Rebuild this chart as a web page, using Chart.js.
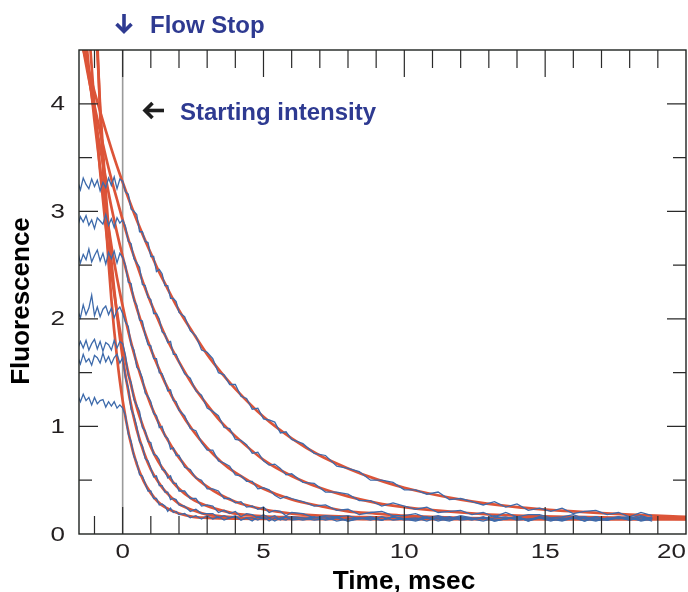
<!DOCTYPE html>
<html>
<head>
<meta charset="utf-8">
<script src="https://cdn.jsdelivr.net/npm/chart.js@4"></script>
<style>
  body { margin: 0; background: #fff; }
  canvas { display: block; }
</style>
</head>
<body>
<canvas id="stopFlowCanvas" width="688" height="592"></canvas>
<script>
// time points of the fitted curves (msec)
const fitTime = [-1.6, -1.4, -1.2, -1.0, -0.8, -0.6, -0.4, -0.2, 0, 0.25, 0.5, 0.75, 1, 1.25, 1.5, 2, 2.5, 3, 3.5, 4, 5, 6, 7, 8, 9, 10, 12, 14, 16, 18, 20];

// fitted curves (red)
const fit1 = [4.72, 4.51, 4.31, 4.11, 3.93, 3.75, 3.58, 3.42, 3.27, 3.09, 2.92, 2.76, 2.61, 2.46, 2.33, 2.08, 1.87, 1.67, 1.50, 1.35, 1.09, 0.89, 0.73, 0.61, 0.51, 0.43, 0.32, 0.25, 0.21, 0.18, 0.16];
const fit2 = [4.80, 4.51, 4.23, 3.98, 3.74, 3.51, 3.30, 3.11, 2.92, 2.70, 2.51, 2.32, 2.15, 2.00, 1.85, 1.60, 1.38, 1.20, 1.04, 0.91, 0.69, 0.54, 0.43, 0.35, 0.29, 0.25, 0.20, 0.17, 0.16, 0.15, 0.14];
const fit3 = [5.03, 4.62, 4.25, 3.91, 3.59, 3.31, 3.04, 2.80, 2.58, 2.33, 2.10, 1.90, 1.72, 1.56, 1.41, 1.16, 0.96, 0.80, 0.67, 0.57, 0.42, 0.32, 0.26, 0.21, 0.19, 0.17, 0.15, 0.145, 0.14, 0.14, 0.14];
const fit4 = [5.52, 4.89, 4.33, 3.84, 3.40, 3.02, 2.68, 2.38, 2.12, 1.83, 1.59, 1.38, 1.20, 1.05, 0.92, 0.71, 0.55, 0.44, 0.36, 0.30, 0.23, 0.19, 0.17, 0.16, 0.155, 0.15, 0.145, 0.14, 0.14, 0.14, 0.14];
const fit5 = [6.61, 5.58, 4.71, 3.98, 3.37, 2.85, 2.42, 2.06, 1.75, 1.44, 1.18, 0.98, 0.81, 0.68, 0.58, 0.42, 0.32, 0.26, 0.22, 0.19, 0.165, 0.155, 0.15, 0.145, 0.14, 0.14, 0.14, 0.14, 0.14, 0.14, 0.14];
const fit6 = [10.0, 7.93, 6.29, 5.00, 3.98, 3.18, 2.54, 2.04, 1.64, 1.26, 0.97, 0.76, 0.60, 0.49, 0.40, 0.28, 0.22, 0.18, 0.165, 0.155, 0.145, 0.14, 0.14, 0.14, 0.14, 0.14, 0.14, 0.14, 0.14, 0.14, 0.14];
const fit7 = [13.04, 9.62, 7.11, 5.26, 3.91, 2.91, 2.18, 1.64, 1.24, 0.89, 0.65, 0.49, 0.38, 0.30, 0.25, 0.19, 0.16, 0.15, 0.145, 0.142, 0.14, 0.14, 0.14, 0.14, 0.14, 0.14, 0.14, 0.14, 0.14, 0.14, 0.14];

// time points of the measured traces (msec)
const traceTime = [-1.6, -1.5, -1.4, -1.3, -1.2, -1.1, -1.0, -0.9, -0.8, -0.7, -0.6, -0.5, -0.4, -0.3, -0.2, -0.1, 0,
  0.1, 0.2, 0.3, 0.4, 0.5, 0.6, 0.7, 0.8, 0.9, 1.0, 1.1, 1.2, 1.3, 1.4, 1.5, 1.6, 1.7, 1.8, 1.9, 2.0,
  2.2, 2.4, 2.6, 2.8, 3.0, 3.2, 3.4, 3.6, 3.8, 4.0, 4.2, 4.4, 4.6, 4.8, 5.0, 5.2, 5.4, 5.6, 5.8, 6.0,
  6.4, 6.8, 7.2, 7.6, 8.0, 8.4, 8.8, 9.2, 9.6, 10.0, 10.4, 10.8, 11.2, 11.6, 12.0, 12.4, 12.8, 13.2, 13.6, 14.0,
  14.4, 14.8, 15.2, 15.6, 16.0, 16.4, 16.8, 17.2, 17.6, 18.0, 18.4, 18.8];

// measured traces (blue)
const trace1 = [3.28, 3.20, 3.31, 3.25, 3.21, 3.30, 3.23, 3.29, 3.19, 3.27, 3.22, 3.31, 3.24, 3.32, 3.21, 3.30, 3.28,
  3.18, 3.16, 3.02, 3.00, 2.97, 2.81, 2.81, 2.72, 2.71, 2.58, 2.58, 2.44, 2.46, 2.42, 2.31, 2.31, 2.19, 2.19, 2.16, 2.06,
  2.02, 1.89, 1.84, 1.71, 1.69, 1.63, 1.50, 1.48, 1.39, 1.39, 1.28, 1.26, 1.16, 1.17, 1.07, 1.06, 1.04, 0.94, 0.95, 0.88,
  0.84, 0.75, 0.73, 0.63, 0.61, 0.58, 0.50, 0.50, 0.48, 0.41, 0.41, 0.37, 0.39, 0.32, 0.33, 0.30, 0.27, 0.30, 0.25, 0.28,
  0.22, 0.24, 0.21, 0.24, 0.19, 0.21, 0.22, 0.18, 0.20, 0.16, 0.20, 0.17];
const trace2 = [2.86, 2.95, 2.90, 2.96, 2.87, 2.92, 2.84, 2.94, 2.91, 2.88, 2.97, 2.87, 2.93, 2.85, 2.94, 2.89, 2.92,
  2.86, 2.72, 2.70, 2.56, 2.52, 2.48, 2.32, 2.31, 2.20, 2.18, 2.05, 2.05, 2.00, 1.88, 1.86, 1.78, 1.79, 1.67, 1.67, 1.60,
  1.49, 1.45, 1.33, 1.29, 1.17, 1.14, 1.10, 0.99, 0.98, 0.88, 0.87, 0.83, 0.75, 0.76, 0.68, 0.64, 0.65, 0.61, 0.55, 0.56,
  0.48, 0.47, 0.39, 0.39, 0.37, 0.31, 0.31, 0.26, 0.29, 0.26, 0.23, 0.25, 0.20, 0.21, 0.22, 0.18, 0.20, 0.16, 0.20, 0.16,
  0.18, 0.18, 0.15, 0.16, 0.18, 0.14, 0.16, 0.13, 0.16, 0.15, 0.17, 0.14];
const trace3 = [2.63, 2.52, 2.60, 2.55, 2.65, 2.53, 2.59, 2.64, 2.54, 2.61, 2.51, 2.62, 2.56, 2.63, 2.52, 2.61, 2.57,
  2.50, 2.34, 2.33, 2.17, 2.13, 1.99, 1.98, 1.85, 1.76, 1.75, 1.63, 1.63, 1.50, 1.49, 1.42, 1.33, 1.34, 1.24, 1.23, 1.15,
  1.10, 0.98, 0.96, 0.85, 0.78, 0.78, 0.68, 0.66, 0.63, 0.55, 0.54, 0.49, 0.49, 0.42, 0.43, 0.41, 0.36, 0.33, 0.35, 0.33,
  0.30, 0.26, 0.27, 0.22, 0.23, 0.18, 0.20, 0.21, 0.17, 0.17, 0.19, 0.15, 0.17, 0.14, 0.17, 0.15, 0.14, 0.17, 0.14, 0.16,
  0.12, 0.16, 0.14, 0.13, 0.16, 0.12, 0.15, 0.14, 0.16, 0.13, 0.15, 0.12];
const trace4 = [2.08, 2.01, 2.13, 2.04, 2.10, 2.22, 2.03, 2.11, 2.02, 2.09, 2.12, 2.04, 2.10, 2.01, 2.08, 2.11, 2.05,
  1.97, 1.93, 1.76, 1.71, 1.55, 1.52, 1.45, 1.31, 1.28, 1.23, 1.12, 1.10, 0.99, 1.00, 0.91, 0.89, 0.79, 0.80, 0.73, 0.73,
  0.62, 0.60, 0.52, 0.50, 0.42, 0.42, 0.40, 0.33, 0.33, 0.29, 0.30, 0.25, 0.26, 0.23, 0.25, 0.20, 0.22, 0.21, 0.17, 0.20,
  0.19, 0.15, 0.17, 0.16, 0.17, 0.14, 0.16, 0.13, 0.16, 0.13, 0.14, 0.16, 0.12, 0.15, 0.15, 0.13, 0.16, 0.12, 0.14, 0.15,
  0.13, 0.16, 0.13, 0.14, 0.15, 0.12, 0.16, 0.13, 0.15, 0.14, 0.13, 0.16];
const trace5 = [1.72, 1.79, 1.73, 1.80, 1.71, 1.77, 1.81, 1.72, 1.79, 1.70, 1.78, 1.76, 1.71, 1.80, 1.73, 1.79, 1.77,
  1.66, 1.47, 1.41, 1.25, 1.20, 1.14, 0.99, 0.96, 0.86, 0.85, 0.74, 0.73, 0.69, 0.60, 0.59, 0.52, 0.54, 0.47, 0.47, 0.40,
  0.40, 0.33, 0.33, 0.26, 0.27, 0.26, 0.20, 0.22, 0.19, 0.21, 0.16, 0.19, 0.18, 0.15, 0.18, 0.15, 0.17, 0.13, 0.16, 0.15,
  0.13, 0.15, 0.16, 0.12, 0.14, 0.15, 0.13, 0.16, 0.13, 0.14, 0.15, 0.12, 0.16, 0.13, 0.15, 0.14, 0.12, 0.15, 0.16, 0.13,
  0.14, 0.15, 0.12, 0.15, 0.14, 0.16, 0.13, 0.13, 0.15, 0.16, 0.12, 0.14];
const trace6 = [1.65, 1.58, 1.67, 1.60, 1.63, 1.57, 1.66, 1.64, 1.59, 1.68, 1.60, 1.65, 1.58, 1.64, 1.67, 1.59, 1.64,
  1.45, 1.36, 1.16, 1.10, 1.00, 0.86, 0.82, 0.70, 0.68, 0.61, 0.53, 0.54, 0.45, 0.45, 0.39, 0.39, 0.32, 0.33, 0.32, 0.27,
  0.26, 0.21, 0.23, 0.19, 0.19, 0.19, 0.15, 0.17, 0.15, 0.17, 0.13, 0.15, 0.15, 0.13, 0.16, 0.12, 0.15, 0.14, 0.13, 0.16,
  0.15, 0.13, 0.14, 0.16, 0.12, 0.15, 0.14, 0.13, 0.16, 0.14, 0.12, 0.15, 0.14, 0.16, 0.13, 0.14, 0.15, 0.12, 0.14, 0.16,
  0.13, 0.15, 0.14, 0.12, 0.15, 0.16, 0.13, 0.14, 0.15, 0.13, 0.16, 0.14];
const trace7 = [1.29, 1.23, 1.30, 1.24, 1.27, 1.20, 1.27, 1.21, 1.24, 1.25, 1.18, 1.23, 1.19, 1.23, 1.17, 1.20, 1.17,
  1.10, 0.93, 0.86, 0.72, 0.67, 0.55, 0.54, 0.47, 0.40, 0.40, 0.33, 0.33, 0.27, 0.28, 0.26, 0.21, 0.24, 0.20, 0.21, 0.18,
  0.19, 0.15, 0.17, 0.14, 0.17, 0.14, 0.16, 0.13, 0.15, 0.16, 0.13, 0.15, 0.12, 0.16, 0.14, 0.15, 0.12, 0.15, 0.16, 0.13,
  0.14, 0.16, 0.13, 0.15, 0.12, 0.14, 0.15, 0.13, 0.16, 0.14, 0.13, 0.15, 0.14, 0.12, 0.16, 0.14, 0.15, 0.13, 0.14, 0.16,
  0.12, 0.15, 0.14, 0.13, 0.16, 0.14, 0.12, 0.15, 0.14, 0.16, 0.13, 0.15];

// axis ticks and labels
const xTicks = [-1, 0, 1, 2, 3, 4, 5, 6, 7, 8, 9, 10, 11, 12, 13, 14, 15, 16, 17, 18, 19];
const xLabels = [0, 5, 10, 15, 20];
const yTicks = [0.5, 1, 1.5, 2, 2.5, 3, 3.5, 4];
const yLabels = [0, 1, 2, 3, 4];

const FONT = '"Liberation Sans", Arial, Helvetica, sans-serif';
const BLUE_TEXT = '#2e3a91';

function toPoints(times, values) {
    return values.map((v, i) => ({ x: times[i], y: v }));
}

// tick labels in the original are widened horizontally
function wideText(ctx, text, x, y, align, stretch) {
    ctx.save();
    ctx.translate(x, y);
    ctx.scale(stretch, 1);
    ctx.textAlign = align;
    ctx.fillText(text, 0, 0);
    ctx.restore();
}

const framePlugin = {
    id: 'frame',
    beforeDatasetsDraw(chart) {
        const { ctx, chartArea: a, scales: { x } } = chart;
        const x0 = x.getPixelForValue(0);
        ctx.save();
        ctx.strokeStyle = '#9a9a9a';
        ctx.lineWidth = 1.6;
        ctx.beginPath();
        ctx.moveTo(x0, a.top);
        ctx.lineTo(x0, a.bottom);
        ctx.stroke();
        ctx.restore();
    },
    afterDatasetsDraw(chart) {
        const { ctx, chartArea: a, scales: { x, y } } = chart;
        ctx.save();

        // box
        ctx.strokeStyle = '#1e2320';
        ctx.lineWidth = 1.4;
        ctx.strokeRect(a.left, a.top, a.right - a.left, a.bottom - a.top);

        // inward ticks
        ctx.lineWidth = 1.2;
        ctx.strokeStyle = '#2a2a2a';
        ctx.beginPath();
        xTicks.forEach(v => {
            const px = x.getPixelForValue(v);
            const len = v % 5 === 0 ? 27 : 18;
            ctx.moveTo(px, a.bottom);
            ctx.lineTo(px, a.bottom - len);
            ctx.moveTo(px, a.top);
            ctx.lineTo(px, a.top + len);
        });
        yTicks.forEach(v => {
            const py = y.getPixelForValue(v);
            const len = v % 1 === 0 ? 19 : 13;
            ctx.moveTo(a.left, py);
            ctx.lineTo(a.left + len, py);
            ctx.moveTo(a.right, py);
            ctx.lineTo(a.right - len, py);
        });
        ctx.stroke();

        // tick labels
        ctx.fillStyle = '#231f20';
        ctx.font = '20px ' + FONT;
        ctx.textBaseline = 'middle';
        yLabels.forEach(v => {
            wideText(ctx, String(v), 65, y.getPixelForValue(v) + 1, 'right', 1.3);
        });
        ctx.textBaseline = 'alphabetic';
        xLabels.forEach((v, i) => {
            if (i === xLabels.length - 1) {
                wideText(ctx, String(v), 686, 558, 'right', 1.3);
            } else {
                wideText(ctx, String(v), x.getPixelForValue(v), 558, 'center', 1.3);
            }
        });

        // axis titles
        ctx.fillStyle = '#000';
        ctx.font = 'bold 25px ' + FONT;
        wideText(ctx, 'Time, msec', 404, 589, 'center', 1.05);

        ctx.save();
        ctx.translate(29, 301);
        ctx.rotate(-Math.PI / 2);
        ctx.font = 'bold 26px ' + FONT;
        ctx.textAlign = 'center';
        ctx.fillText('Fluorescence', 0, 0);
        ctx.restore();

        // annotations
        ctx.font = 'bold 24px ' + FONT;
        ctx.textAlign = 'left';
        ctx.fillStyle = BLUE_TEXT;
        ctx.fillText('Flow Stop', 150, 33);
        ctx.fillText('Starting intensity', 180, 120);

        // down arrow (blue)
        ctx.strokeStyle = BLUE_TEXT;
        ctx.lineWidth = 3.6;
        ctx.lineJoin = 'miter';
        ctx.beginPath();
        ctx.moveTo(124, 14);
        ctx.lineTo(124, 31);
        ctx.stroke();
        ctx.beginPath();
        ctx.moveTo(116.5, 24);
        ctx.lineTo(124, 31.5);
        ctx.lineTo(131.5, 24);
        ctx.stroke();

        // left arrow (black)
        ctx.strokeStyle = '#1e1e1e';
        ctx.beginPath();
        ctx.moveTo(146, 110.5);
        ctx.lineTo(164, 110.5);
        ctx.stroke();
        ctx.beginPath();
        ctx.moveTo(152.5, 103);
        ctx.lineTo(145, 110.5);
        ctx.lineTo(152.5, 118);
        ctx.stroke();

        ctx.restore();
    }
};

function drawChart() {
    const fits = [fit1, fit2, fit3, fit4, fit5, fit6, fit7];
    const traces = [trace1, trace2, trace3, trace4, trace5, trace6, trace7];

    const datasets = [];
    fits.forEach(values => {
        datasets.push({
            data: toPoints(fitTime, values),
            borderColor: '#dc5438',
            borderWidth: 2.7,
            cubicInterpolationMode: 'monotone',
            pointRadius: 0,
            fill: false,
            order: 1
        });
    });
    traces.forEach(values => {
        datasets.push({
            data: toPoints(traceTime, values),
            borderColor: '#3d6aab',
            borderWidth: 1.3,
            tension: 0,
            pointRadius: 0,
            fill: false,
            order: 0
        });
    });

    const ctx = document.getElementById('stopFlowCanvas').getContext('2d');
    new Chart(ctx, {
        type: 'line',
        data: { datasets },
        options: {
            responsive: false,
            animation: false,
            devicePixelRatio: 1,
            layout: { padding: { left: 79, right: 2, top: 50, bottom: 58 } },
            scales: {
                x: { type: 'linear', min: -1.55, max: 20, display: false },
                y: { type: 'linear', min: 0, max: 4.5, display: false }
            },
            plugins: {
                legend: { display: false },
                tooltip: { enabled: false }
            }
        },
        plugins: [framePlugin]
    });
}

drawChart();
</script>
</body>
</html>
